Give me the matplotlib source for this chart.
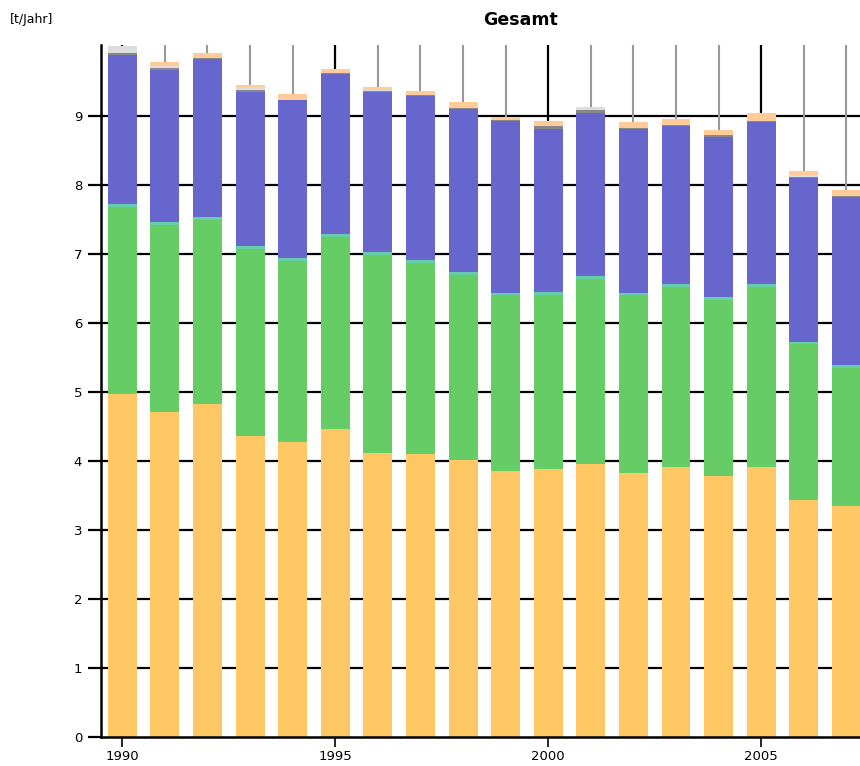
import matplotlib
matplotlib.use("Agg")
import matplotlib.pyplot as plt
import numpy as np

years = list(range(1990, 2008))
orange = [4.97, 4.71, 4.83, 4.37, 4.27, 4.46, 4.11, 4.10, 4.01, 3.86, 3.89, 3.95, 3.83, 3.92, 3.79, 3.92, 3.44, 3.35]
green = [2.71, 2.71, 2.67, 2.70, 2.63, 2.79, 2.88, 2.77, 2.69, 2.54, 2.52, 2.69, 2.57, 2.60, 2.55, 2.60, 2.25, 2.00]
teal = [0.04] * 18
blue = [2.16, 2.21, 2.29, 2.24, 2.29, 2.32, 2.32, 2.38, 2.36, 2.49, 2.36, 2.37, 2.37, 2.30, 2.31, 2.36, 2.37, 2.44]
darkgrey = [0.03, 0.025, 0.01, 0.025, 0.01, 0.01, 0.01, 0.01, 0.01, 0.01, 0.04, 0.035, 0.01, 0.01, 0.03, 0.01, 0.01, 0.01]
lightgrey = [0.10, 0.025, 0.0, 0.04, 0.0, 0.0, 0.02, 0.0, 0.0, 0.0, 0.0, 0.05, 0.0, 0.0, 0.0, 0.0, 0.03, 0.0]
peach = [0.0, 0.06, 0.068, 0.035, 0.08, 0.06, 0.04, 0.06, 0.09, 0.05, 0.08, 0.0, 0.09, 0.09, 0.08, 0.11, 0.07, 0.09]

layers = [
    (orange, "#FFC864"),
    (green, "#66CC66"),
    (teal, "#66CCAA"),
    (blue, "#6666CC"),
    (darkgrey, "#888888"),
    (lightgrey, "#DDDDDD"),
    (peach, "#FFCC99"),
]

W, H = 860, 766
fig = plt.figure(figsize=(W / 100, H / 100), dpi=100)
ax = fig.add_axes([101 / W, (766 - 737) / H, (860 - 101) / W, (737 - 45) / H])

x = np.array(years, dtype=float)
bottom = np.zeros(len(years))
for vals, col in layers:
    v = np.array(vals)
    ax.bar(x, v, width=0.68, bottom=bottom, color=col, linewidth=0, zorder=3)
    bottom += v

ax.set_xlim(1989.5, 2007.32)
ax.set_ylim(0, 10.03)

# grid
for yv in range(1, 10):
    ax.axhline(yv, color="black", lw=1.6, zorder=1)
for yr in years:
    if yr % 5 == 0:
        ax.axvline(yr, color="black", lw=1.6, zorder=1)
    else:
        ax.axvline(yr, color="#999999", lw=1.5, zorder=1)

ax.set_yticks(range(0, 10))
ax.set_yticklabels([str(i) for i in range(0, 10)])
ax.set_xticks([1990, 1995, 2000, 2005])
ax.set_xticklabels(["1990", "1995", "2000", "2005"])
ax.tick_params(axis="y", length=9.5, width=1.6, direction="out", labelsize=9.5, pad=4)
ax.tick_params(axis="x", length=7, width=1.2, direction="out", labelsize=9.5, pad=2)

for s in ["top", "right"]:
    ax.spines[s].set_visible(False)
ax.spines["left"].set_linewidth(1.8)
ax.spines["bottom"].set_linewidth(1.8)
ax.spines["left"].set_zorder(5)
ax.spines["bottom"].set_zorder(5)

fig.text(521 / W, 1 - 20 / H, "Gesamt", ha="center", va="center", fontsize=12.5, fontweight="bold")
fig.text(10 / W, 1 - 20 / H, "[t/Jahr]", ha="left", va="center", fontsize=9)

fig.savefig("out.png", dpi=100)
